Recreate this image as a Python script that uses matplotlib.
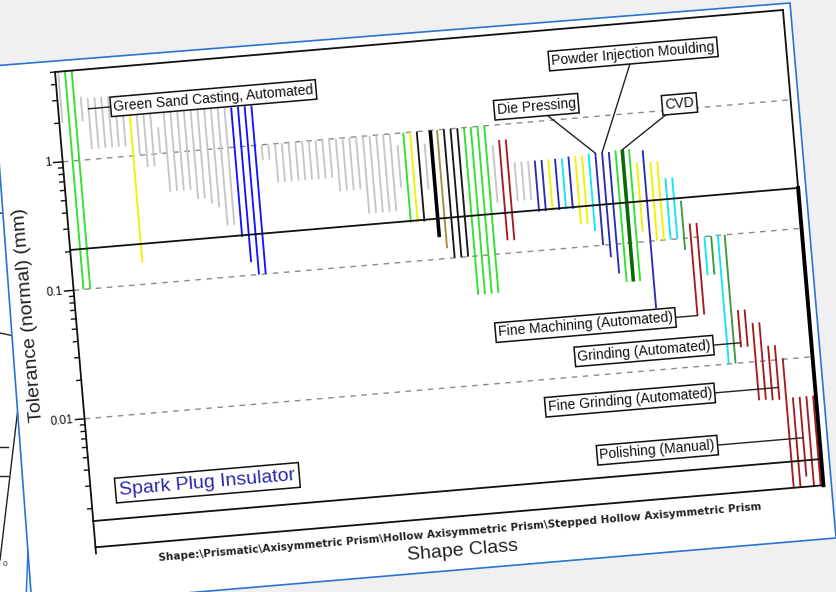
import matplotlib
matplotlib.use("Agg")
import matplotlib.pyplot as plt
from matplotlib.transforms import Affine2D
from matplotlib.patches import Polygon
from matplotlib.lines import Line2D

plt.rcParams['font.family'] = ['Liberation Sans', 'DejaVu Sans']

W, H = 837, 592
ANG = 4.87  # the whole screenshot is tilted

# ---------------- data ----------------
bar_tops = [5.0, 5.0, 5.0, 3.1, 3.0, 3.0, 3.0, 3.0, 3.0, 3.0,
            2.95, 3.0, 3.0, 3.0, 1.6, 3.0, 3.0, 3.0, 3.0, 3.0,
            3.0, 3.0, 3.0, 3.0, 3.0, 2.04, 2.04, 2.04, 2.04, 1.0,
            1.0, 1.0, 1.0, 1.0, 1.0, 1.0, 1.0, 1.0, 1.0, 1.0,
            1.0, 1.0, 1.0, 1.0, 1.0, 1.0, 1.0, 1.0, 1.0, 0.81,
            1.0, 1.0, 1.0, 0.8, 1.0, 1.0, 1.0, 1.0, 1.0, 1.0,
            1.0, 1.0, 1.0, 0.7, 0.76, 0.76, 0.5, 0.5, 0.5, 0.5,
            0.5, 0.5, 0.5, 0.5, 0.51, 0.51, 0.51, 0.52, 0.52, 0.52,
            0.52, 0.53, 0.53, 0.53, 0.41, 0.51, 0.41, 0.41, 0.30, 0.30,
            0.196, 0.129, 0.129, 0.099, 0.1, 0.1, 0.1, 0.0257, 0.0257, 0.020,
            0.020, 0.013, 0.013, 0.0102, 0.005, 0.005, 0.005, 0.005]
bar_bottoms = [2.0, 0.1, 0.1, 2.0, 1.2, 1.2, 1.2, 1.2, 1.2, 1.2,
               0.148, 1.0, 0.8, 0.8, 1.0, 0.5, 0.5, 0.5, 0.5, 0.42,
               0.42, 0.38, 0.35, 0.25, 0.25, 0.2, 0.126, 0.1, 0.1, 0.76,
               0.76, 0.5, 0.5, 0.5, 0.5, 0.5, 0.5, 0.5, 0.5, 0.5,
               0.39, 0.39, 0.39, 0.39, 0.25, 0.25, 0.25, 0.25, 0.25, 0.38,
               0.2, 0.2, 0.2, 0.35, 0.148, 0.12, 0.1, 0.1, 0.1, 0.05,
               0.05, 0.05, 0.05, 0.25, 0.126, 0.125, 0.25, 0.25, 0.25, 0.2,
               0.2, 0.2, 0.2, 0.2, 0.2, 0.15, 0.15, 0.13, 0.1, 0.08,
               0.059, 0.05, 0.05, 0.05, 0.12, 0.03, 0.1, 0.1, 0.1, 0.1,
               0.081, 0.025, 0.025, 0.05, 0.05, 0.01, 0.01, 0.0132, 0.0132, 0.005,
               0.005, 0.0049, 0.0049, 0.001, 0.001, 0.0012, 0.001, 0.001]
# process family of each bar (g grey, G green, Y yellow, B blue, N navy, C cyan,
# R red, K black, k thick black, O olive, F forest, D thick dark green)
bar_kinds = ("gGGgggggggYgggggggggggggg" "BBBB" "ggggggggggggggggggggg"
             "GYKgkOKKKGGGGgRRggg" "NNYNCNYYCNNN" "GDGYNYYCCFRRCFCF" "RRRRRRRRRRR")

kind_colors = {'g': '#c6c6c6', 'G': '#2fe02f', 'Y': '#f2f200', 'B': '#1414ff',
               'N': '#2c2cae', 'C': '#12e6f6', 'R': '#a61c1c', 'K': '#1a1a1a',
               'k': '#000000', 'O': '#a48e3a', 'F': '#3a9a3a', 'D': '#0a6a0a'}
kind_widths = {'k': 2.6, 'D': 2.6}

y_major = [1, 0.1, 0.01]
y_major_labels = ['1', '0.1', '0.01']
y_limits = (0.001, 5)
sel_high = 0.206
sel_low = 0.0016

label_texts = ["Green Sand Casting, Automated", "Die Pressing",
               "Powder Injection Moulding", "CVD",
               "Fine Machining (Automated)", "Grinding (Automated)",
               "Fine Grinding (Automated)", "Polishing (Manual)"]
label_x = [22.5, 69.9, 84.8, 91.0, 74.4, 82.7, 80.0, 83.4]
label_y = [2.47, 1.30, 2.87, 1.10, 0.0248, 0.0143, 0.0061, 0.0024]
target_x = [4, 78, 79, 82, 91, 97, 102, 105]
target_y = [2.47, 0.52, 0.52, 0.53, 0.0248, 0.0143, 0.0061, 0.0024]

title_text = "Spark Plug Insulator"
title_pos = (16.8, 0.00266)
shape_text = r"Shape:\Prismatic\Axisymmetric Prism\Hollow Axisymmetric Prism\Stepped Hollow Axisymmetric Prism"

# ---------------- figure ----------------
fig = plt.figure(figsize=(W / 100, H / 100), dpi=100)
fig.patch.set_facecolor('#f0f0f0')


def img2fig(pts):
    return [(x / W, 1 - y / H) for x, y in pts]


# panels of the screenshot
back = Polygon(img2fig([(-60, 74), (47, 64), (26, 600), (-60, 600)]), closed=True,
               transform=fig.transFigure, fc='white', ec='#2a73d0', lw=1.0, zorder=-10)
fig.add_artist(back)
for pts in ([(0, 333), (14, 336)], [(18, 408), (0, 560)], [(0, 447), (8, 447)],
            [(0, 476), (8, 476)], [(0, 213), (12, 215)]):
    p = img2fig(pts)
    fig.add_artist(Line2D([p[0][0], p[1][0]], [p[0][1], p[1][1]], transform=fig.transFigure,
                          color='#222222', lw=1.0, zorder=-9.5))
fig.text(3 / W, 1 - 566 / H, "0", fontsize=6, color='#333333', zorder=-9.5)
main = Polygon(img2fig([(-8, 66), (790, 3), (836, 538), (32, 606)]), closed=True,
               transform=fig.transFigure, fc='white', ec='#2a73d0', lw=1.2, zorder=-9)
fig.add_artist(main)

# chart axes in the un-tilted frame
AX_L, AX_T, AX_W, AX_H = 55, 72, 730.6, 477
ax = fig.add_axes([AX_L / W, (H - AX_T - AX_H) / H, AX_W / W, AX_H / H])
ax.set_yscale('log')
ax.set_xlim(-0.47, 107.4)
ax.set_ylim(*y_limits)
ax.axis('off')

rot = Affine2D().rotate_deg_around(AX_L, H - AX_T, ANG)
TD = ax.transData + rot
TA = ax.transAxes + rot
TY = ax.get_yaxis_transform() + rot

# grid
for v in y_major:
    ax.plot([0, 1], [v, v], transform=TY, color='#8a8a8a', lw=1.0,
            ls=(0, (4, 4)), clip_on=False, zorder=1)

# bars
positions = list(range(len(bar_tops)))
cols = [kind_colors[k] for k in bar_kinds]
lws = [kind_widths.get(k, 1.35) for k in bar_kinds]
ax.vlines(positions, bar_bottoms, bar_tops, colors=cols, linewidths=lws,
          transform=TD, clip_on=False, zorder=2)

# frame
fkw = dict(color='#111111', lw=1.3, clip_on=False, zorder=3)
ax.plot([0, 1], [1, 1], transform=TA, **fkw)
ax.plot([0, 1], [0, 0], transform=TA, **fkw)
ax.plot([0, 0], [1, -0.013], transform=TA, **fkw)
ax.plot([1, 1], [1, 0], transform=TA, **fkw)
# selection box
ax.plot([0, 1], [sel_high, sel_high], transform=TY, **fkw)
ax.plot([0, 1], [sel_low, sel_low], transform=TY, **fkw)
ax.plot([1, 1], [y_limits[0], sel_high], transform=TY, color='black', lw=2.8,
        clip_on=False, zorder=3)

# y ticks
maj_len = 9 / AX_W
min_len = 4.5 / AX_W
for v, lab in zip(y_major, y_major_labels):
    ax.plot([-maj_len, 0], [v, v], transform=TY, color='#111111', lw=1.1, clip_on=False)
    ax.text(-maj_len - 2 / AX_W, v, lab, transform=TY, rotation=ANG,
            rotation_mode='anchor', ha='right', va='center', fontsize=8.5,
            color='#111111')
for dec in [0.001, 0.01, 0.1, 1]:
    for k in range(2, 10):
        v = k * dec
        if v <= y_limits[1]:
            ax.plot([-min_len, 0], [v, v], transform=TY, color='#111111', lw=1.0,
                    clip_on=False)

# axis titles
ax.text(-0.064, 0.497, "Tolerance (normal) (mm)", transform=TA, rotation=90 + ANG,
        rotation_mode='anchor', ha='center', va='center', fontsize=14, color='#222222')
ax.text(0.5, -0.073, "Shape Class", transform=TA, rotation=ANG, rotation_mode='anchor',
        ha='center', va='center', fontsize=14, color='#222222')
ax.text(0.499, -0.033, shape_text, transform=TA, rotation=ANG, rotation_mode='anchor',
        ha='center', va='center', fontsize=7.6, family='DejaVu Sans', weight='bold',
        color='#222222')

# annotations
for t, lx, ly, tx, ty in zip(label_texts, label_x, label_y, target_x, target_y):
    ax.plot([lx, tx], [ly, ty], transform=TD, color='#222222', lw=1.0,
            clip_on=False, zorder=4)
    ax.text(lx, ly, t, transform=TD, rotation=ANG, rotation_mode='anchor',
            ha='center', va='center', fontsize=10, color='#111111', zorder=5,
            bbox=dict(boxstyle='square,pad=0.2', fc='white', ec='#111111', lw=1.1))

ax.text(title_pos[0], title_pos[1], title_text, transform=TD, rotation=ANG,
        rotation_mode='anchor', ha='center', va='center', fontsize=14,
        color='#2a2aa6', zorder=5,
        bbox=dict(boxstyle='square,pad=0.2', fc='white', ec='#111111', lw=1.1))

fig.savefig("out.png", dpi=100, facecolor=fig.get_facecolor())
